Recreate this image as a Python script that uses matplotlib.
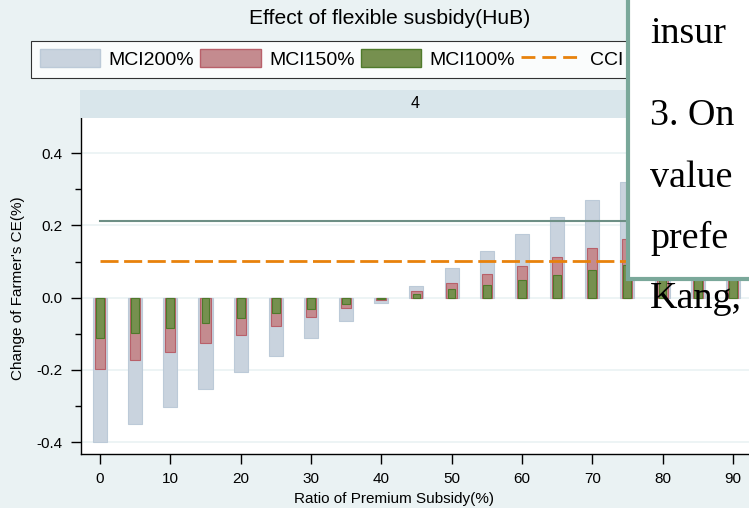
"""Effect of flexible subsidy (HuB) - stacked overlay bars."""
import matplotlib

matplotlib.use("Agg")
import matplotlib.pyplot as plt
from matplotlib.patches import Patch, Rectangle
from matplotlib.lines import Line2D

# data
subsidy = [0, 5, 10, 15, 20, 25, 30, 35, 40, 45, 50, 55, 60, 65, 70, 75, 80, 85, 90]
mci200 = [-0.399, -0.351, -0.302, -0.254, -0.207, -0.161, -0.111, -0.064, -0.016, 0.033,
          0.081, 0.129, 0.176, 0.224, 0.272, 0.320, 0.368, 0.416, 0.464]
mci150 = [-0.199, -0.174, -0.151, -0.126, -0.104, -0.078, -0.054, -0.030, -0.006, 0.018,
          0.041, 0.066, 0.089, 0.113, 0.138, 0.162, 0.186, 0.210, 0.234]
mci100 = [-0.111, -0.097, -0.083, -0.071, -0.055, -0.043, -0.031, -0.017, -0.004, 0.010,
          0.023, 0.035, 0.050, 0.063, 0.077, 0.090, 0.104, 0.117, 0.130]
cci_level = 0.102
other_level = 0.213
yticks = [-0.4, -0.2, 0.0, 0.2, 0.4]
ytick_labels = ["-0.4", "-0.2", "0.0", "0.2", "0.4"]
xticks = [0, 10, 20, 30, 40, 50, 60, 70, 80, 90]
popup_lines = [("insur", 43), ("3. On", 125), ("value", 187), ("prefe", 248), ("Kang,", 308)]

W, H = 749, 508
BG = "#eaf2f3"
C200, E200 = "#c9d3de", "#bccad8"
C150, E150 = "#c48b8f", "#b8606a"
C100, E100 = "#76904f", "#4f7a2b"
ORANGE = "#e8820c"
LINE = "#6d8f85"

plt.rcParams["font.family"] = ["Liberation Sans", "DejaVu Sans"]

fig = plt.figure(figsize=(W / 100, H / 100), dpi=100, facecolor=BG)


def fx(px):
    return px / W


def fy(py):
    return 1 - py / H


ax = fig.add_axes([fx(80.7), fy(454.3), fx(749 - 80.7), (454.3 - 118.3) / H])
ax.set_facecolor("white")
ax.set_xlim(-2.75, 92.3)
ax.set_ylim(-0.434, 0.497)

for y in yticks:
    ax.axhline(y, color=BG, lw=1.2, zorder=0)

ax.bar(subsidy, mci200, width=2.0, color=C200, edgecolor=E200, linewidth=0.8, zorder=2)
ax.bar(subsidy, mci150, width=1.45, color=C150, edgecolor=E150, linewidth=0.8, zorder=3)
ax.bar(subsidy, mci100, width=1.1, color=C100, edgecolor=E100, linewidth=0.8, zorder=4)
ax.plot([subsidy[0], subsidy[-1] + 5], [other_level, other_level], color=LINE, lw=1.5, zorder=5)
ax.plot([subsidy[0], subsidy[-1] + 5], [cci_level, cci_level], color=ORANGE, lw=2,
        dashes=(6.5, 2), zorder=5)

for s in ("top", "right"):
    ax.spines[s].set_visible(False)
ax.spines["left"].set_linewidth(1)
ax.spines["bottom"].set_linewidth(1)

ax.set_yticks(yticks)
ax.set_yticklabels(ytick_labels)
ax.set_yticks([-0.3, -0.1, 0.1, 0.3], minor=True)
ax.set_xticks(xticks)
ax.tick_params(axis="both", which="major", length=7, width=1, labelsize=11, pad=6)
ax.tick_params(axis="y", which="minor", length=4, width=1)

# strip header
fig.add_artist(Rectangle((fx(80), fy(118)), fx(700), 28 / H, transform=fig.transFigure,
                         facecolor="#d9e6eb", edgecolor="none", zorder=0.5))
fig.text(fx(415), fy(104), "4", ha="center", va="center", fontsize=11.5)

fig.text(fx(390), fy(19), "Effect of flexible susbidy(HuB)", ha="center", va="center", fontsize=15.2)
fig.text(fx(394), fy(499), "Ratio of Premium Subsidy(%)", ha="center", va="center", fontsize=11)
fig.text(fx(18), fy(288), "Change of Farmer's CE(%)", ha="center", va="center",
         rotation=90, fontsize=11)

handles = [
    Patch(facecolor=C200, edgecolor=E200, label="MCI200%"),
    Patch(facecolor=C150, edgecolor=E150, label="MCI150%"),
    Patch(facecolor=C100, edgecolor=E100, label="MCI100%"),
    Line2D([0], [0], color=ORANGE, lw=2, dashes=(5, 2.5), label="CCI"),
]
leg = fig.legend(handles=handles, loc="upper left", bbox_to_anchor=(fx(31), fy(40.7)),
                 ncol=4, fontsize=14, frameon=True, fancybox=False, edgecolor="black",
                 handlelength=3.1, handleheight=1.0, handletextpad=0.45, columnspacing=0.3,
                 borderpad=0.45, borderaxespad=0)
leg.get_frame().set_linewidth(0.8)
leg.set_zorder(1)

# popup window covering the right part of the chart
fig.add_artist(Rectangle((fx(628), fy(279)), fx(200), 300 / H, transform=fig.transFigure,
                         facecolor="white", edgecolor="#7aa89a", linewidth=3, zorder=10))
for txt, base in popup_lines:
    fig.text(fx(650), fy(base), txt, ha="left", va="baseline", fontsize=27.4,
             family="Liberation Serif", zorder=11)

fig.savefig("out.png", dpi=100, facecolor=BG)
